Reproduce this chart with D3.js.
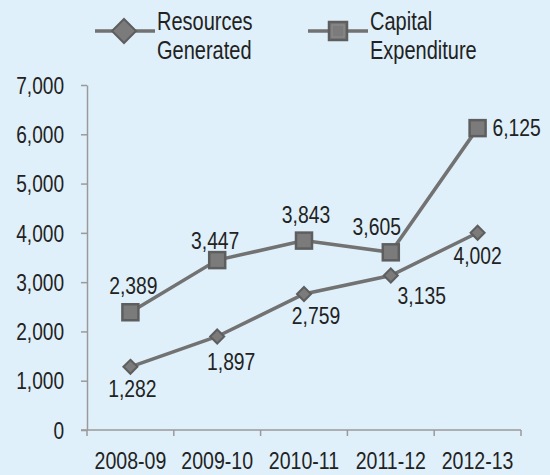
<!DOCTYPE html>
<html>
<head>
<meta charset="utf-8">
<script src="https://cdn.jsdelivr.net/npm/d3@7"></script>
<style>
  html, body { margin: 0; padding: 0; background: #dff0fa; }
  svg { display: block; }
  text { font-family: "Liberation Sans", Arial, sans-serif; fill: #222; }
</style>
</head>
<body>
<div id="chart"></div>
<script>
// data
const years = ["2008-09", "2009-10", "2010-11", "2011-12", "2012-13"];
const resourcesGenerated = [1282, 1897, 2759, 3135, 4002];
const capitalExpenditure = [2389, 3447, 3843, 3605, 6125];
const yTicks = [0, 1000, 2000, 3000, 4000, 5000, 6000, 7000];

// where each value label sits relative to its marker
const resLabelOffsets = [[2, 22], [14, 25], [12, 22], [31, 20], [0, 23]];
const capLabelOffsets = [[3, -27], [-2, -19], [2, -26], [-14, -26], [39, 0]];

const width = 550, height = 475;
const lineColor = "#727272", markFill = "#7b7b7b", markStroke = "#5e5e5e";

// no narrow font installed: squeeze Liberation Sans horizontally
function condense(sel, k) {
  sel.each(function() {
    const w = this.getComputedTextLength();
    this.setAttribute("textLength", w * k);
    this.setAttribute("lengthAdjust", "spacingAndGlyphs");
  });
}

const svg = d3.select("#chart").append("svg")
    .attr("width", width)
    .attr("height", height);

const x = d3.scaleBand().domain(years).range([87, 521]);
const y = d3.scaleLinear().domain([0, 7000]).range([430, 85]);
const cx = d => x(d) + x.bandwidth() / 2;

// y axis
const yAxis = svg.append("g")
    .attr("transform", "translate(87,0)")
    .call(d3.axisLeft(y).tickValues(yTicks).tickFormat(d3.format(",")).tickSize(6).tickSizeOuter(0));
yAxis.select(".domain").attr("stroke", "#9a9a9a").attr("stroke-width", 1.5);
yAxis.selectAll(".tick line").attr("stroke", "#9a9a9a").attr("stroke-width", 1.5);
yAxis.selectAll(".tick text")
    .attr("x", -23)
    .attr("dy", "0.36em")
    .style("font-size", "23px")
    .style("font-family", "'Liberation Sans', sans-serif")
    .attr("fill", "#222")
    .call(condense, 0.83);

// x axis
const xg = svg.append("g");
xg.append("line")
    .attr("x1", 81).attr("x2", x.range()[1])
    .attr("y1", y(0)).attr("y2", y(0))
    .attr("stroke", "#9a9a9a").attr("stroke-width", 1.5);
const edges = years.map(d => x(d)).concat([x(years[years.length - 1]) + x.bandwidth()]);
xg.selectAll("line.tk").data(edges).join("line")
    .attr("class", "tk")
    .attr("x1", d => d).attr("x2", d => d)
    .attr("y1", y(0)).attr("y2", y(0) + 6)
    .attr("stroke", "#9a9a9a").attr("stroke-width", 1.5);
xg.selectAll("text").data(years).join("text")
    .attr("x", d => cx(d))
    .attr("y", 469)
    .attr("text-anchor", "middle")
    .style("font-size", "23px")
    .text(d => d)
    .call(condense, 0.85);

const line = d3.line().x((d, i) => cx(years[i])).y(d => y(d));

function drawSeries(values, shape, offsets) {
  const g = svg.append("g");
  g.append("path")
      .datum(values)
      .attr("d", line)
      .attr("fill", "none")
      .attr("stroke", lineColor)
      .attr("stroke-width", 3.5);

  const marks = g.selectAll("g.m").data(values).join("g")
      .attr("class", "m")
      .attr("transform", (d, i) => `translate(${cx(years[i])},${y(d)})`);
  if (shape === "square") {
    marks.append("rect")
        .attr("x", -8).attr("y", -8).attr("width", 16).attr("height", 16)
        .attr("fill", markFill).attr("stroke", markStroke).attr("stroke-width", 2.5);
  } else {
    marks.append("path")
        .attr("d", "M0,-7L7,0L0,7L-7,0Z")
        .attr("fill", markFill).attr("stroke", markStroke).attr("stroke-width", 2);
  }

  g.selectAll("text").data(values).join("text")
      .attr("x", (d, i) => cx(years[i]) + offsets[i][0])
      .attr("y", (d, i) => y(d) + offsets[i][1])
      .attr("dy", "0.36em")
      .attr("text-anchor", "middle")
      .style("font-size", "23px")
      .text(d => d3.format(",")(d))
      .call(condense, 0.84);
}

drawSeries(capitalExpenditure, "square", capLabelOffsets);
drawSeries(resourcesGenerated, "diamond", resLabelOffsets);

// legend
const legend = svg.append("g");
function legendItem(x0, shape, lines) {
  legend.append("line")
      .attr("x1", x0).attr("x2", x0 + 60)
      .attr("y1", 31).attr("y2", 31)
      .attr("stroke", lineColor).attr("stroke-width", 3.5);
  if (shape === "square") {
    legend.append("rect")
        .attr("x", x0 + 21).attr("y", 22).attr("width", 18).attr("height", 18)
        .attr("fill", markFill).attr("stroke", markStroke).attr("stroke-width", 2.5);
    legend.append("rect")
        .attr("x", x0 + 24).attr("y", 25).attr("width", 12).attr("height", 12)
        .attr("fill", "none").attr("stroke", "#8d8d8d").attr("stroke-width", 1);
  } else {
    legend.append("path")
        .attr("transform", `translate(${x0 + 29},31)`)
        .attr("d", "M0,-12L12,0L0,12L-12,0Z")
        .attr("fill", markFill).attr("stroke", markStroke).attr("stroke-width", 2);
  }
  legend.selectAll(null).data(lines).join("text")
      .attr("x", x0 + 62)
      .attr("y", (d, i) => 30 + i * 29)
      .style("font-size", "25px")
      .text(d => d)
      .call(condense, 0.8);
}
legendItem(95, "diamond", ["Resources", "Generated"]);
legendItem(308, "square", ["Capital", "Expenditure"]);
</script>
</body>
</html>
